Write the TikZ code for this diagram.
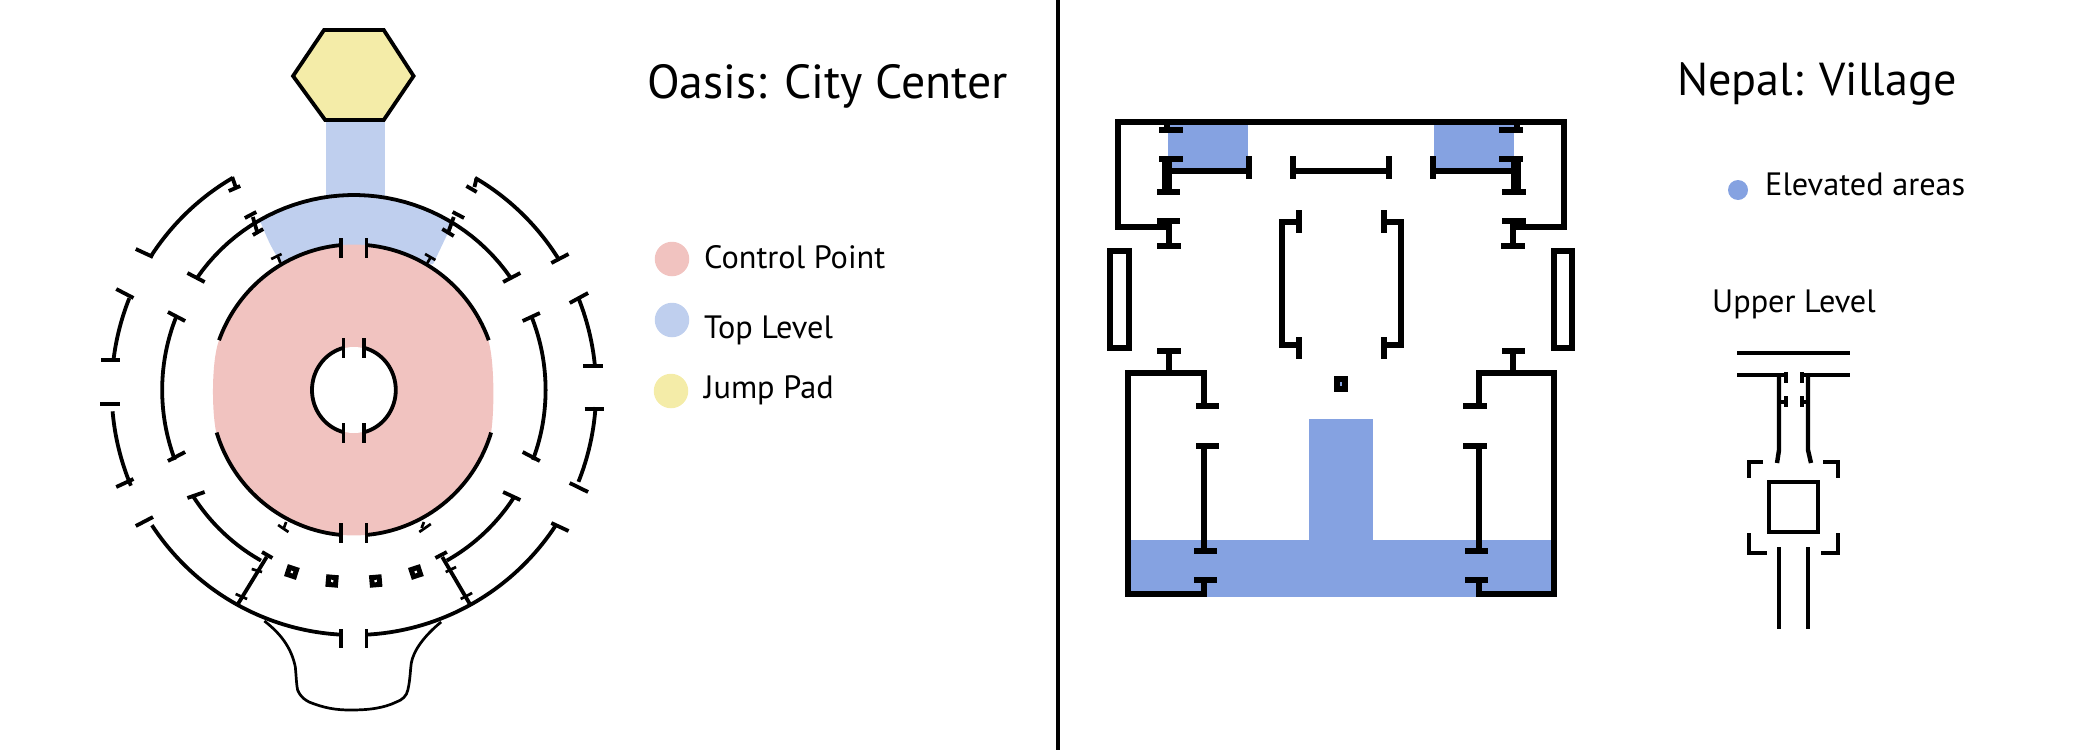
\documentclass[tikz,border=0pt]{standalone}
\usepackage{fontspec}
\setmainfont{PT Sans}
\definecolor{pointPink}{RGB}{241,195,192}
\definecolor{levelBlue}{RGB}{191,207,238}
\definecolor{padYellow}{RGB}{244,236,168}
\definecolor{raisedBlue}{RGB}{133,162,225}
\tikzset{
  wall/.style={line width=3.8pt,draw=black},
  thinwall/.style={line width=2.7pt,draw=black},
  block/.style={line width=5.8pt,draw=black},
  beam/.style={line width=4.4pt,draw=black},
  title/.style={anchor=base west,inner sep=0pt,font=\fontsize{47.8}{47.8}\selectfont},
  subtitle/.style={anchor=base west,inner sep=0pt,font=\fontsize{46.2}{46.2}\selectfont},
  legend/.style={anchor=base west,inner sep=0pt,font=\fontsize{32.3}{32.3}\selectfont},
  swatch/.style={circle,inner sep=0pt,minimum size=34.5pt},
  pillar/.style={draw=black,line width=5pt,fill=white,inner sep=0pt,minimum size=7.5pt}
}
% ellipse around the middle of the left map
\newcommand{\ringarc}[4]{plot[domain=#3:#4,samples=40] ({316+#1*cos(\x)},{390-#2*sin(\x)})}
\begin{document}
\begin{tikzpicture}[x=1pt,y=-1pt]
    \useasboundingbox (0,0) rectangle (2100,750);

    % left map
    \begin{scope}[xshift=-8.88pt,xscale=1.148]
    % fills
    \fill[levelBlue] (292,118) rectangle (343,200);
    \fill[levelBlue] \ringarc{167}{195}{121}{59} .. controls (395,240) .. (385,264) -- (253,264) .. controls (243,245) .. (235,223) -- cycle;
    \fill[pointPink] \ringarc{125}{145.5}{20}{160} .. controls (192,360) and (192,410) .. (196,432) -- plot[domain=197:343,samples=40] ({316+125*cos(\x)},{390-145.5*sin(\x)}) .. controls (438.5,410) and (438.5,360) .. (433,340) -- cycle;
    \fill[white] (316,390) ellipse[x radius=36,y radius=43];
    \filldraw[fill=padYellow,wall] (290,30) -- (342,30) -- (368,76) -- (342,120) -- (291,120) -- (263,76) -- cycle;

    % hole
    \draw[wall] \ringarc{36.5}{43.5}{75}{-75};
    \draw[wall] \ringarc{36.5}{43.5}{105}{255};
    \draw[wall] (307,338) -- (307,358);
    \draw[wall] (325,338) -- (325,358);
    \draw[wall] (307,423) -- (307,443);
    \draw[wall] (325,423) -- (325,443);

    % ring 1
    \draw[wall] \ringarc{125}{145.5}{20}{85};
    \draw[wall] \ringarc{125}{145.5}{95}{160};
    \draw[wall] \ringarc{125}{145.5}{-17}{-85};
    \draw[wall] \ringarc{125}{145.5}{197}{265};
    \draw[wall] (305,238) -- (305,258);
    \draw[wall] (327,238) -- (327,258);
    \draw[wall] (305,523) -- (305,543);
    \draw[wall] (327,523) -- (327,543);
    \draw[thinwall] (380,263) -- (383,257);
    \draw[thinwall] (378,254) -- (387,260);
    \draw[thinwall] (252,263) -- (250,257);
    \draw[thinwall] (244,259) -- (253,254);
    \draw[thinwall] (255,528) -- (257,522);
    \draw[thinwall] (250,525) -- (259,532);
    \draw[thinwall] (375,528) -- (377,522);
    \draw[thinwall] (373,532) -- (383,524);

    % ring 2
    \draw[wall] \ringarc{167}{195}{35}{145};
    \draw[wall] (446,282) -- (461,273);
    \draw[wall] (171,273) -- (186,282);
    \draw[wall] (398,233) -- (403,217);
    \draw[wall] (393,229) -- (403,236);
    \draw[wall] (402,212) -- (412,218);
    \draw[wall] (232,233) -- (228,217);
    \draw[wall] (228,235) -- (237,229);
    \draw[wall] (221,218) -- (231,212);
    \draw[wall] \ringarc{167}{195}{22}{-21};
    \draw[wall] \ringarc{167}{195}{158}{201};
    \draw[wall] (463,321) -- (478,313);
    \draw[wall] (154,312) -- (169,321);
    \draw[wall] (463,452) -- (478,461);
    \draw[wall] (154,461) -- (169,452);
    \draw[wall] \ringarc{167}{195}{-33}{-61};
    \draw[wall] \ringarc{167}{195}{213}{241};
    \draw[wall] (446,492) -- (461,500);
    \draw[wall] (171,498) -- (186,492);
    \draw[wall] (236,552) -- (245,558);
    \draw[wall] (387,558) -- (397,552);

    % ring 2 pillars
    \node[pillar,rotate=-18] (pillarA) at (262,572) {};
    \node[pillar,rotate=-5] (pillarB) at (297,581) {};
    \node[pillar,rotate=5] (pillarC) at (335,581) {};
    \node[pillar,rotate=18] (pillarD) at (370,572) {};

    % ring 2 - ring 3
    \draw[wall] (240,557) -- (215,604);
    \draw[thinwall] (227,569) -- (236,572);
    \draw[thinwall] (213,594) -- (223,599);
    \draw[wall] (393,557) -- (417,604);
    \draw[thinwall] (396,572) -- (405,567);
    \draw[thinwall] (409,599) -- (419,593);

    % ring 3
    \draw[wall] \ringarc{211}{245}{120}{147};
    \draw[wall] \ringarc{211}{245}{60}{32};
    \draw[wall] (210,177) -- (213,187);
    \draw[wall] (207,191) -- (217,186);
    \draw[wall] (423,178) -- (421,187);
    \draw[wall] (414,186) -- (423,192);
    \draw[wall] (126,249) -- (141,257);
    \draw[wall] (488,263) -- (503,254);
    \draw[wall] \ringarc{211}{245}{158}{173};
    \draw[wall] \ringarc{211}{245}{185}{203};
    \draw[wall] \ringarc{211}{245}{22}{6};
    \draw[wall] \ringarc{211}{245}{-4}{-22};
    \draw[wall] (109,289) -- (124,298);
    \draw[wall] (96,360) -- (112,360);
    \draw[wall] (95,404) -- (112,404);
    \draw[wall] (109,487) -- (124,479);
    \draw[wall] (504,303) -- (520,293);
    \draw[wall] (516,366) -- (533,366);
    \draw[wall] (517,409) -- (534,409);
    \draw[wall] (504,483) -- (520,492);
    \draw[wall] \ringarc{211}{245}{-33.5}{-87};
    \draw[wall] \ringarc{211}{245}{213.5}{267};
    \draw[wall] (488,523) -- (503,531);
    \draw[wall] (126,526) -- (141,517);
    \draw[wall] (305,629) -- (305,648);
    \draw[wall] (327,629) -- (327,648);

    % bottom bulge
    \draw[thinwall] (238,621) .. controls (254,635) and (262,650) .. (265,667) .. controls (266,680) and (266,685) .. (267,690) .. controls (270,698) and (274,700) .. (277,702) .. controls (290,708) and (300,710) .. (313,710) .. controls (330,710) and (342,708) .. (353,702) .. controls (358,700) and (362,696) .. (363,690) .. controls (365,680) and (365,672) .. (366,663) .. controls (368,650) and (378,635) .. (392,622);
    \end{scope}

    % left texts
    \node[title] (oasisTitle) at (647,98) {Oasis: City Center};
    \node[swatch,fill=pointPink] (pointDot) at (672,259) {};
    \node[swatch,fill=levelBlue] (levelDot) at (672,320) {};
    \node[swatch,fill=padYellow] (padDot) at (671,391) {};
    \node[legend] (pointText) at (704,268) {Control Point};
    \node[legend] (levelText) at (704,338) {Top Level};
    \node[legend] (padText) at (704,398) {Jump Pad};

    % divider
    \draw[line width=4pt] (1058,0) -- (1058,750);

    % right fills
    \fill[raisedBlue] (1168,125) rectangle (1248,168);
    \fill[raisedBlue] (1434,125) rectangle (1514,168);
    \fill[raisedBlue] (1309,419) rectangle (1373,545);
    \fill[raisedBlue] (1128,540) rectangle (1554,597);

    % upper block
    \draw[block] (1169,227) -- (1118,227) -- (1118,122) -- (1564,122) -- (1564,227) -- (1513,227);
    \draw[block] (1159,130) -- (1183,130);
    \draw[block] (1167,122) -- (1167,130);
    \draw[block] (1159,159) -- (1183,159);
    \draw[line width=10pt] (1167,159) -- (1167,192);
    \draw[block] (1157,192) -- (1180,192);
    \draw[block] (1157,221) -- (1180,221);
    \draw[block] (1169,221) -- (1169,246);
    \draw[block] (1157,246) -- (1181,246);
    \draw[block] (1499,130) -- (1523,130);
    \draw[block] (1517,122) -- (1517,130);
    \draw[block] (1499,159) -- (1523,159);
    \draw[line width=10pt] (1516,159) -- (1516,192);
    \draw[block] (1502,192) -- (1526,192);
    \draw[block] (1502,221) -- (1526,221);
    \draw[block] (1513,221) -- (1513,246);
    \draw[block] (1501,246) -- (1525,246);

    % beams
    \draw[block] (1167,171) -- (1249,171);
    \draw[block] (1249,156) -- (1249,179);
    \draw[block] (1293,171) -- (1389,171);
    \draw[block] (1293,156) -- (1293,179);
    \draw[block] (1389,156) -- (1389,179);
    \draw[block] (1433,171) -- (1516,171);
    \draw[block] (1433,156) -- (1433,179);

    % side slabs
    \draw[block] (1110,251) rectangle (1129,348);
    \draw[block] (1554,251) rectangle (1572,348);

    % inner brackets
    \draw[block] (1299,222) -- (1282,222) -- (1282,345) -- (1299,345);
    \draw[block] (1299,210) -- (1299,233);
    \draw[block] (1299,337) -- (1299,359);
    \draw[block] (1384,222) -- (1401,222) -- (1401,345) -- (1384,345);
    \draw[block] (1384,210) -- (1384,233);
    \draw[block] (1384,337) -- (1384,359);
    \node[draw=black,line width=6pt,fill=raisedBlue,inner sep=0pt,minimum width=8.5pt,minimum height=10.5pt] (smallPost) at (1341,384) {};

    % lower rooms
    \draw[block] (1204,406) -- (1204,373) -- (1128,373) -- (1128,594) -- (1204,594) -- (1204,580);
    \draw[block] (1196,406) -- (1219,406);
    \draw[block] (1194,580) -- (1217,580);
    \draw[block] (1169,351) -- (1169,373);
    \draw[block] (1157,351) -- (1181,351);
    \draw[block] (1204,446) -- (1204,551);
    \draw[block] (1196,446) -- (1219,446);
    \draw[block] (1194,551) -- (1217,551);
    \draw[block] (1479,406) -- (1479,373) -- (1554,373) -- (1554,594) -- (1479,594) -- (1479,580);
    \draw[block] (1463,406) -- (1487,406);
    \draw[block] (1465,580) -- (1488,580);
    \draw[block] (1513,351) -- (1513,373);
    \draw[block] (1502,351) -- (1525,351);
    \draw[block] (1479,446) -- (1479,551);
    \draw[block] (1463,446) -- (1487,446);
    \draw[block] (1465,551) -- (1488,551);

    % upper level
    \draw[beam] (1737,353) -- (1850,353);
    \draw[wall] (1737,375) -- (1787,375);
    \draw[wall] (1801,375) -- (1850,375);
    \draw[beam] (1779,375) -- (1779,450) -- (1777,463);
    \draw[beam] (1808,375) -- (1808,450) -- (1811,463);
    \draw[wall] (1786,372) -- (1786,383);
    \draw[wall] (1802,372) -- (1802,383);
    \draw[wall] (1786,396) -- (1786,407);
    \draw[wall] (1802,396) -- (1802,407);
    \draw[wall] (1779,402) -- (1786,402);
    \draw[wall] (1802,402) -- (1808,402);
    \draw[beam] (1763,462) -- (1749,462) -- (1749,478);
    \draw[beam] (1823,462) -- (1838,462) -- (1838,478);
    \draw[beam] (1749,533) -- (1749,553) -- (1767,553);
    \draw[beam] (1838,533) -- (1838,553) -- (1821,553);
    \draw[beam] (1769,482) rectangle (1818,532);
    \draw[beam] (1779,547) -- (1779,629);
    \draw[beam] (1808,547) -- (1808,629);

    % right texts
    \node[subtitle] (nepalTitle) at (1677,95) {Nepal: Village};
    \node[circle,fill=raisedBlue,inner sep=0pt,minimum size=20pt] (raisedDot) at (1738,190) {};
    \node[legend] (raisedText) at (1765,195) {Elevated areas};
    \node[legend] (upperText) at (1712,312) {Upper Level};
\end{tikzpicture}
\end{document}
